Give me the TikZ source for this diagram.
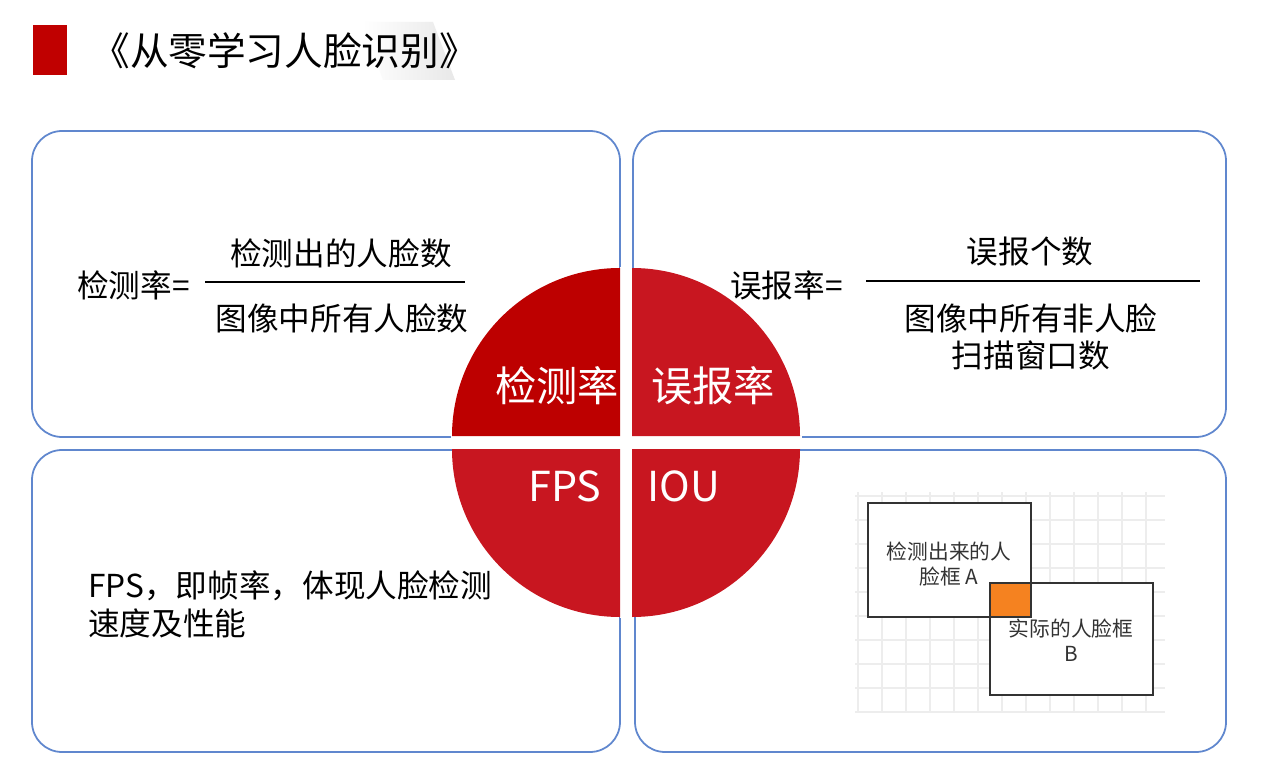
\documentclass[tikz,border=0pt]{standalone}
\usepackage{fontspec}
\setmainfont{Noto Sans CJK SC}
\definecolor{titlered}{RGB}{192,0,0}
\definecolor{darkred}{RGB}{189,0,0}
\definecolor{brightred}{RGB}{200,22,32}
\definecolor{panelblue}{RGB}{96,135,206}
\definecolor{boxorange}{RGB}{245,130,32}
\definecolor{boxgray}{RGB}{51,51,51}
\begin{document}
\begin{tikzpicture}[x=0.02cm, y=0.02cm,
            panel/.style={draw=panelblue, line width=1pt, rounded corners=0.6cm},
            body/.style={font=\fontsize{18pt}{21.5pt}\selectfont, text=black, inner sep=0pt},
            quarter/.style={font=\fontsize{23.5pt}{28pt}\selectfont, text=white, inner sep=0pt},
            facebox/.style={draw=boxgray, line width=1.6pt, fill=white},
            boxlabel/.style={font=\fontsize{11.8pt}{14pt}\selectfont, text=boxgray, align=center, inner sep=0pt},
            gridline/.style={draw=gray!14, line width=0.6pt},
        ]
            \useasboundingbox (0,0) rectangle (1268,-770);
            \fill[white] (0,0) rectangle (1268,-770);

            %Title
            \fill[titlered] (33,-25) rectangle (67,-75);
            \shade[left color=white, right color=gray!18] (362,-22) -- (433,-22) -- (455,-80) -- (383,-80) -- cycle;
            \node[anchor=west, font=\fontsize{22pt}{26pt}\selectfont, inner sep=0pt] (title) at (91,-51) {《从零学习人脸识别》};

            %Panels
            \draw[panel] (32,-131) rectangle (620,-437);
            \draw[panel] (633,-131) rectangle (1226,-437);
            \draw[panel] (32,-450) rectangle (620,-752);
            \draw[panel] (635,-450) rectangle (1226,-752);

            %Detection rate
            \node[body, anchor=west] (rate) at (77,-285) {检测率=};
            \node[body] (num1) at (341,-253) {检测出的人脸数};
            \node[body] (den1) at (342,-318) {图像中所有人脸数};
            \coordinate (bar1l) at (205,-282);
            \coordinate (bar1r) at (465,-282);
            \draw[line width=1pt] (bar1l) -- (bar1r);

            %False alarm rate
            \node[body, anchor=west] (frate) at (730,-285) {误报率=};
            \node[body] (num2) at (1030,-252) {误报个数};
            \node[body, align=center] (den2) at (1031,-337) {图像中所有非人脸\\扫描窗口数};
            \coordinate (bar2l) at (866,-281);
            \coordinate (bar2r) at (1200,-281);
            \draw[line width=1.6pt] (bar2l) -- (bar2r);

            %FPS
            \node[body, anchor=west, align=left] (fpstext) at (88,-604) {FPS，即帧率，体现人脸检测\\速度及性能};

            %IOU
            \foreach \gx in {858,882,...,1162}
                \draw[gridline] (\gx,-492) -- (\gx,-712);
            \foreach \gy in {496,520,...,712}
                \draw[gridline] (855,-\gy) -- (1165,-\gy);
            \draw[facebox] (868,-503) rectangle (1031,-617);
            \draw[facebox] (990,-583) rectangle (1153,-695);
            \fill[boxorange] (990,-583) rectangle (1031,-617);
            \draw[facebox, fill=none] (868,-503) rectangle (1031,-617);
            \draw[facebox, fill=none] (990,-583) rectangle (1153,-695);
            \node[boxlabel] (boxa) at (949,-564) {检测出来的人\\脸框 A};
            \node[boxlabel] (boxb) at (1071,-640) {实际的人脸框\\B};

            %Circle
            \fill[white] (451,-436) rectangle (802,-449);
            \fill[white] (620,-267) rectangle (632,-618);
            \fill[darkred] (620,-436) -- ++(180:168) arc (180:90:168) -- cycle;
            \fill[brightred] (632,-436) -- ++(0:168) arc (0:90:168) -- cycle;
            \fill[brightred] (620,-449) -- ++(180:168) arc (180:270:168) -- cycle;
            \fill[brightred] (632,-449) -- ++(270:168) arc (270:360:168) -- cycle;
            \node[quarter] (detect) at (557,-386) {检测率};
            \node[quarter] (false) at (713,-386) {误报率};
            \node[quarter] (fps) at (565,-486) {FPS};
            \node[quarter] (iou) at (684,-486) {IOU};
        \end{tikzpicture}
\end{document}
